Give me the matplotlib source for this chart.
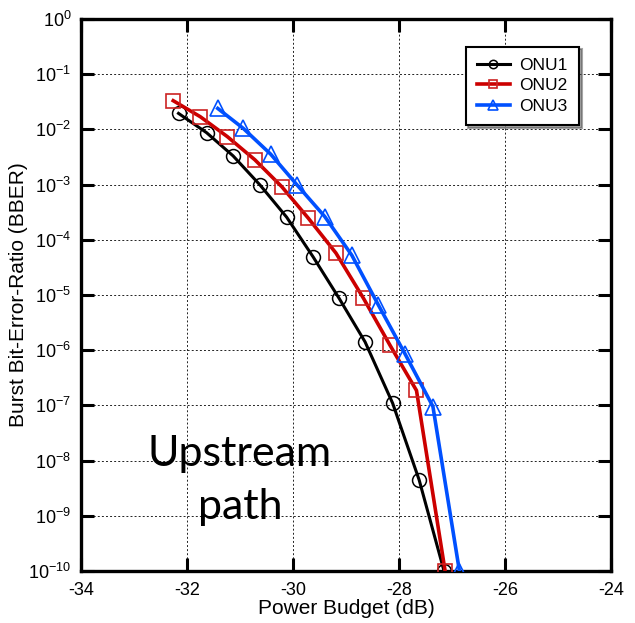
import math
import matplotlib
matplotlib.use("Agg")
import matplotlib.pyplot as plt
from matplotlib.ticker import FixedLocator, FuncFormatter, NullLocator

plt.rcParams['font.family'] = ['Liberation Sans', 'DejaVu Sans']
plt.rcParams['mathtext.default'] = 'regular'
plt.rcParams['axes.unicode_minus'] = False

# Data (power budget in dB, BBER)
onu1_x = [-32.16, -31.63, -31.13, -30.62, -30.12, -29.62, -29.13, -28.64, -28.12, -27.62, -27.15]
onu1_y = [10**-1.71, 10**-2.06, 10**-2.48, 10**-3.01, 10**-3.59, 10**-4.31,
          10**-5.06, 10**-5.85, 10**-6.96, 10**-8.35, 1e-10]
onu2_x = [-32.26, -31.75, -31.24, -30.72, -30.21, -29.71, -29.19, -28.67, -28.17, -27.67, -27.13]
onu2_y = [10**-1.48, 10**-1.77, 10**-2.13, 10**-2.55, 10**-3.04, 10**-3.61,
          10**-4.24, 10**-5.06, 10**-5.91, 10**-6.73, 1e-10]
onu3_x = [-31.42, -30.94, -30.42, -29.92, -29.40, -28.89, -28.39, -27.89, -27.36, -26.86]
onu3_y = [10**-1.62, 10**-1.98, 10**-2.45, 10**-3.01, 10**-3.58, 10**-4.28,
          10**-5.18, 10**-6.06, 10**-7.02, 1e-10]

x_ticks = [-34, -32, -30, -28, -26, -24]
y_exponents = [0, -1, -2, -3, -4, -5, -6, -7, -8, -9, -10]

fig = plt.figure(figsize=(6.35, 6.23), dpi=100)
ax = fig.add_axes([81/635, 1-571/623, 530/635, 552/623])

ax.set_yscale('log')
ax.set_xlim(-34, -24)
ax.set_ylim(1e-10, 1)

ax.plot(onu1_x, onu1_y, color='black', lw=2.2, marker='o', ms=10, mfc='none',
        mec='black', mew=1.1, label='ONU1', zorder=3)
ax.plot(onu2_x, onu2_y, color='#cc0000', lw=2.6, marker='s', ms=10.5, mfc='none',
        mec='#cc2222', mew=1.2, label='ONU2', zorder=4)
ax.plot(onu3_x, onu3_y, color='#0050ff', lw=2.6, marker='^', ms=11, mfc='none',
        mec='#0050ff', mew=1.2, label='ONU3', zorder=5)

ax.xaxis.set_major_locator(FixedLocator(x_ticks))
ax.yaxis.set_major_locator(FixedLocator([10.0**e for e in y_exponents]))
ax.yaxis.set_minor_locator(NullLocator())
ax.xaxis.set_minor_locator(NullLocator())
ax.xaxis.set_major_formatter(FuncFormatter(lambda v, p: f"{int(round(v))}"))
ax.yaxis.set_major_formatter(FuncFormatter(
    lambda v, p: r"$10^{%d}$" % int(round(math.log10(v)))))

ax.grid(True, which='major', color='#222222', linestyle=(0, (2.0, 2.2)), linewidth=0.7)
ax.tick_params(axis='both', which='major', direction='in', length=9.5, width=2.2,
               labelsize=13, top=True, right=True)
ax.tick_params(axis='x', pad=8)
ax.tick_params(axis='y', pad=7)
for s in ax.spines.values():
    s.set_linewidth(2.4)

ax.set_xlabel('Power Budget (dB)', fontsize=15, labelpad=0)
ax.set_ylabel('Burst Bit-Error-Ratio (BBER)', fontsize=15, labelpad=0)

leg = ax.legend(loc='upper right', bbox_to_anchor=(0.94, 0.95), fontsize=12.5,
                frameon=True, fancybox=False, shadow=True, markerscale=0.6,
                handlelength=1.9, borderpad=0.65, labelspacing=0.3, handletextpad=0.55,
                borderaxespad=0)
leg.get_frame().set_edgecolor('black')
leg.get_frame().set_linewidth(1.5)

ax.text(-31.0, 10**-8.36, 'Upstream\npath', fontsize=31, ha='center', va='center',
        family=['Lato', 'DejaVu Sans'], linespacing=1.5, zorder=6)

fig.savefig('out.png', dpi=100)
